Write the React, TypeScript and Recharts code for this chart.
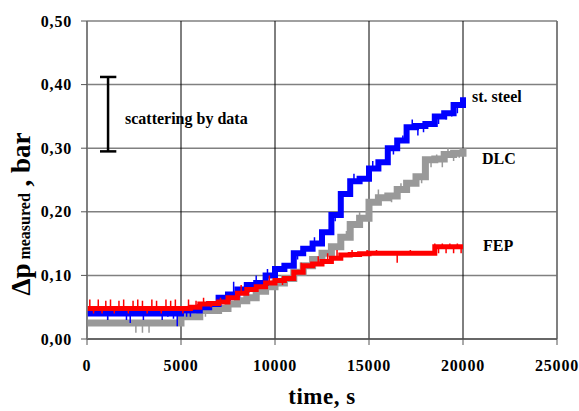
import {
  LineChart,
  Line,
  XAxis,
  YAxis,
  CartesianGrid,
  ReferenceLine,
  ReferenceDot,
} from 'recharts'

const FONT = "'Liberation Serif', 'DejaVu Serif', serif"

// time, s (step every 500 s)
const times = [
  0, 500, 1000, 1500, 2000, 2500, 3000, 3500, 4000, 4500, 5000, 5500, 6000, 6500,
  7000, 7500, 8000, 8500, 9000, 9500, 10000, 10500, 11000, 11500, 12000, 12500,
  13000, 13500, 14000, 14500, 15000, 15500, 16000, 16500, 17000, 17500, 18000,
  18500, 19000, 19500, 20000,
]

// Δp measured, bar
const steel = [
  0.04, 0.04, 0.04, 0.04, 0.04, 0.04, 0.04, 0.04, 0.04, 0.04, 0.045, 0.045, 0.05,
  0.055, 0.065, 0.07, 0.078, 0.085, 0.088, 0.1, 0.11, 0.115, 0.135, 0.142, 0.15,
  0.168, 0.195, 0.228, 0.248, 0.252, 0.268, 0.278, 0.3, 0.312, 0.333, 0.335, 0.338,
  0.35, 0.355, 0.368, 0.38,
]
const dlc = [
  0.025, 0.025, 0.025, 0.025, 0.025, 0.025, 0.025, 0.025, 0.025, 0.025, 0.035,
  0.035, 0.045, 0.045, 0.048, 0.055, 0.06, 0.065, 0.075, 0.082, 0.088, 0.095,
  0.105, 0.115, 0.125, 0.135, 0.145, 0.16, 0.18, 0.19, 0.215, 0.222, 0.225, 0.235,
  0.245, 0.255, 0.282, 0.283, 0.29, 0.292, 0.3,
]
const fep = [
  0.048, 0.048, 0.048, 0.048, 0.048, 0.048, 0.048, 0.048, 0.048, 0.048, 0.048,
  0.05, 0.055, 0.056, 0.058, 0.065, 0.072, 0.078, 0.082, 0.088, 0.092, 0.095,
  0.105, 0.115, 0.118, 0.122, 0.127, 0.132, 0.133, 0.134, 0.135, 0.135, 0.135,
  0.135, 0.135, 0.135, 0.135, 0.145, 0.145, 0.145, 0.145,
]

// single noisy readings (time, value)
const steelSpikeT = [
  1100, 2100, 2300, 3000, 4000, 4300, 4600, 4800, 5300, 5500, 6800, 7800, 9000,
  9600, 11200, 12100, 13200, 14200, 15200, 16300, 16800, 17300, 17600, 17900,
  18300, 18700, 19100, 19400, 19700,
]
const steelSpikeV = [
  0.03, 0.03, 0.025, 0.03, 0.03, 0.035, 0.032, 0.02, 0.035, 0.035, 0.055, 0.09,
  0.1, 0.11, 0.125, 0.16, 0.185, 0.26, 0.28, 0.29, 0.32, 0.345, 0.32, 0.325, 0.335,
  0.338, 0.345, 0.35, 0.355,
]
const dlcSpikeT = [
  1100, 2600, 2950, 3300, 6300, 7000, 8600, 9100, 10700, 13800, 14500, 15500,
  16200, 16700, 17100, 17800, 18300, 18600, 18900, 19200, 19500, 19800,
]
const dlcSpikeV = [
  0.035, 0.01, 0.01, 0.01, 0.035, 0.04, 0.055, 0.085, 0.09, 0.17, 0.2, 0.235,
  0.215, 0.245, 0.235, 0.245, 0.27, 0.29, 0.27, 0.3, 0.28, 0.285,
]
const fepSpikeT = [
  150, 350, 600, 800, 1000, 1250, 1450, 1700, 1950, 2200, 2450, 2700, 2950, 3200,
  3450, 3700, 3950, 4200, 4450, 4700, 5100, 5400, 5800, 6200, 6600, 7100, 8200,
  9700, 10400, 11400, 12300, 12800, 13300, 14100, 14900, 15400, 16500, 17200,
  18500, 18700, 18900, 19100, 19300, 19500, 19700, 19900,
]
const fepSpikeV = [
  0.062, 0.04, 0.062, 0.04, 0.06, 0.062, 0.04, 0.06, 0.062, 0.04, 0.06, 0.062,
  0.06, 0.04, 0.062, 0.06, 0.04, 0.062, 0.06, 0.062, 0.04, 0.062, 0.06, 0.065,
  0.05, 0.065, 0.085, 0.1, 0.085, 0.12, 0.13, 0.135, 0.14, 0.14, 0.14, 0.14, 0.12,
  0.14, 0.15, 0.135, 0.15, 0.135, 0.15, 0.135, 0.15, 0.135,
]

const xTicks = [0, 5000, 10000, 15000, 20000, 25000]
const yTicks = [0, 0.1, 0.2, 0.3, 0.4, 0.5]

const rows = times.map((t, i) => ({ t, steel: steel[i], dlc: dlc[i], fep: fep[i] }))

// base level at time t from the step series
const baseAt = (series: number[], t: number) => {
  let v = series[0]
  times.forEach((tt, i) => {
    if (tt <= t) v = series[i]
  })
  return v
}

const spikes = (series: number[], ts: number[], vs: number[]) =>
  ts.flatMap((t, i) => [
    { t, y: baseAt(series, t) },
    { t, y: vs[i] },
    { t, y: null },
  ])

const steelSpikes = spikes(steel, steelSpikeT, steelSpikeV)
const dlcSpikes = spikes(dlc, dlcSpikeT, dlcSpikeV)
const fepSpikes = spikes(fep, fepSpikeT, fepSpikeV)

const tickStyle = {
  fontSize: 16,
  fontWeight: 'bold',
  fontFamily: FONT,
  style: { fontFamily: FONT },
  fill: '#000',
  letterSpacing: 0.8,
}

const textLabel = (value: string) => ({
  value,
  position: 'right' as const,
  fill: '#000',
  fontSize: 16,
  fontWeight: 'bold',
  fontFamily: FONT,
  style: { fontFamily: FONT },
})

const YTitle = () => {
  const cx = 21
  const cy = 214
  return (
    <text
      x={cx}
      y={cy}
      transform={`rotate(-90 ${cx} ${cy})`}
      textAnchor="middle"
      dominantBaseline="central"
      style={{ fontFamily: FONT }}
      fontWeight="bold"
      fill="#000"
    >
      <tspan fontSize={27}>Δp</tspan>
      <tspan fontSize={16} dy={3}>
        {' measured'}
      </tspan>
      <tspan fontSize={27} dy={-3}>
        {' , bar'}
      </tspan>
    </text>
  )
}

export default function App() {
  return (
    <div
      style={{
        position: 'absolute',
        left: 0,
        top: 0,
        background: '#fff',
        fontFamily: FONT,
      }}
    >
      <LineChart
        width={579}
        height={411}
        data={rows}
        margin={{ top: 21, right: 22, left: 27, bottom: 0 }}
        style={{ fontFamily: FONT }}
      >
        <CartesianGrid vertical={false} stroke="#808080" strokeWidth={1.5} />
        <CartesianGrid horizontal={false} stroke="#000" strokeWidth={1} />
        <ReferenceLine x={25000} stroke="#808080" strokeWidth={1.5} />
        <XAxis
          dataKey="t"
          type="number"
          domain={[0, 25000]}
          ticks={xTicks}
          tick={tickStyle}
          tickSize={6}
          tickMargin={15}
          height={72}
          stroke="#555"
          axisLine={{ stroke: '#555', strokeWidth: 1.5 }}
          label={{
            value: 'time, s',
            position: 'insideBottom',
            offset: 7,
            fill: '#000',
            fontSize: 23,
            fontWeight: 'bold',
            fontFamily: FONT,
            style: { fontFamily: FONT },
            letterSpacing: 0.5,
          }}
        />
        <YAxis
          type="number"
          domain={[0, 0.5]}
          ticks={yTicks}
          tick={tickStyle}
          tickFormatter={(v: number) => v.toFixed(2).replace('.', ',')}
          tickSize={6}
          tickMargin={9}
          width={60}
          stroke="#555"
          axisLine={{ stroke: '#808080', strokeWidth: 1.5 }}
          label={<YTitle />}
        />
        <Line
          dataKey="dlc"
          type="stepAfter"
          stroke="#999999"
          strokeWidth={7}
          dot={false}
          isAnimationActive={false}
        />
        <Line
          data={dlcSpikes}
          dataKey="y"
          type="linear"
          stroke="#999999"
          strokeWidth={1.5}
          dot={false}
          isAnimationActive={false}
        />
        <Line
          dataKey="steel"
          type="stepAfter"
          stroke="#0000ff"
          strokeWidth={6}
          dot={false}
          isAnimationActive={false}
        />
        <Line
          data={steelSpikes}
          dataKey="y"
          type="linear"
          stroke="#0000ff"
          strokeWidth={1.5}
          dot={false}
          isAnimationActive={false}
        />
        <Line
          dataKey="fep"
          type="stepAfter"
          stroke="#ff0000"
          strokeWidth={5}
          dot={false}
          isAnimationActive={false}
        />
        <Line
          data={fepSpikes}
          dataKey="y"
          type="linear"
          stroke="#ff0000"
          strokeWidth={1.5}
          dot={false}
          isAnimationActive={false}
        />
        <ReferenceLine
          segment={[
            { x: 1120, y: 0.295 },
            { x: 1120, y: 0.412 },
          ]}
          stroke="#000"
          strokeWidth={2.5}
        />
        <ReferenceLine
          segment={[
            { x: 690, y: 0.412 },
            { x: 1560, y: 0.412 },
          ]}
          stroke="#000"
          strokeWidth={2.5}
        />
        <ReferenceLine
          segment={[
            { x: 690, y: 0.295 },
            { x: 1560, y: 0.295 },
          ]}
          stroke="#000"
          strokeWidth={2.5}
        />
        <ReferenceDot x={1755} y={0.3475} r={0} fill="none" stroke="none" label={textLabel('scattering by data')} />
        <ReferenceDot x={20213} y={0.382} r={0} fill="none" stroke="none" label={textLabel('st. steel')} />
        <ReferenceDot x={20745} y={0.2846} r={0} fill="none" stroke="none" label={textLabel('DLC')} />
        <ReferenceDot x={20798} y={0.1478} r={0} fill="none" stroke="none" label={textLabel('FEP')} />
      </LineChart>
    </div>
  )
}
